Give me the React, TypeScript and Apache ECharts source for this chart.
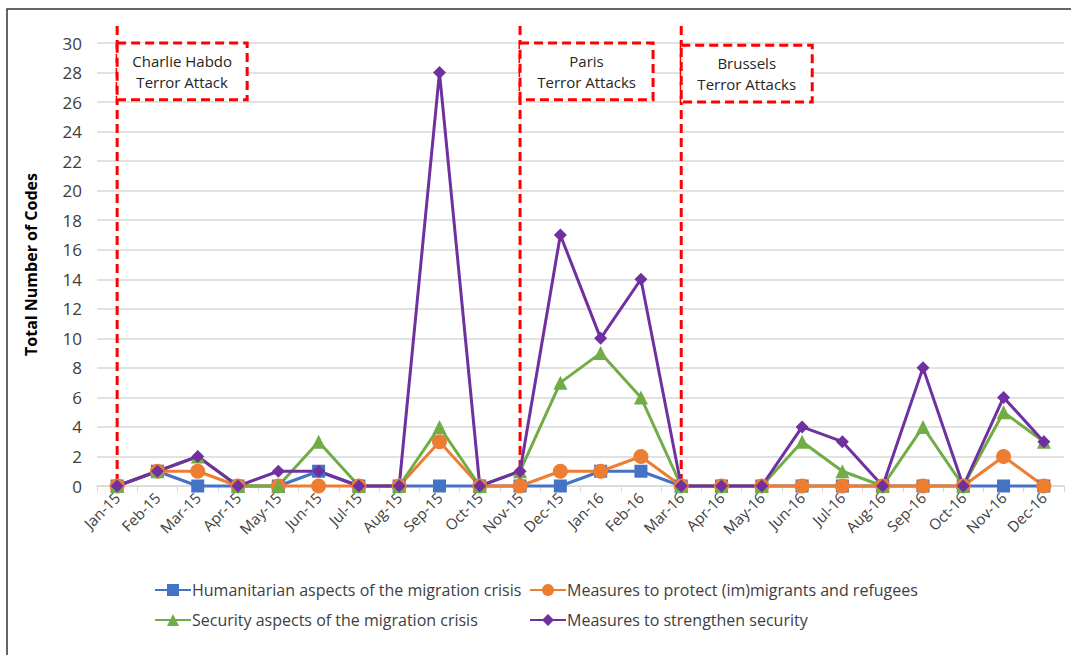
import React, { useEffect, useRef } from "react";
import * as echarts from "echarts";

const months = [
  "Jan-15", "Feb-15", "Mar-15", "Apr-15", "May-15", "Jun-15", "Jul-15", "Aug-15",
  "Sep-15", "Oct-15", "Nov-15", "Dec-15", "Jan-16", "Feb-16", "Mar-16", "Apr-16",
  "May-16", "Jun-16", "Jul-16", "Aug-16", "Sep-16", "Oct-16", "Nov-16", "Dec-16",
];

const humanitarian = [0, 1, 0, 0, 0, 1, 0, 0, 0, 0, 0, 0, 1, 1, 0, 0, 0, 0, 0, 0, 0, 0, 0, 0];
const protectMigrants = [0, 1, 1, 0, 0, 0, 0, 0, 3, 0, 0, 1, 1, 2, 0, 0, 0, 0, 0, 0, 0, 0, 2, 0];
const securityAspects = [0, 1, 2, 0, 0, 3, 0, 0, 4, 0, 1, 7, 9, 6, 0, 0, 0, 3, 1, 0, 4, 0, 5, 3];
const strengthenSecurity = [0, 1, 2, 0, 1, 1, 0, 0, 28, 0, 1, 17, 10, 14, 0, 0, 0, 4, 3, 0, 8, 0, 6, 3];

const seriesNames = [
  "Humanitarian aspects of the migration crisis",
  "Measures to protect (im)migrants and refugees",
  "Security aspects of the migration crisis",
  "Measures to strengthen security",
];

const events = [
  { month: "Jan-15", label: "Charlie Habdo\nTerror Attack" },
  { month: "Nov-15", label: "Paris\nTerror Attacks" },
  { month: "Mar-16", label: "Brussels\nTerror Attacks" },
];

const FONT = "'Open Sans', Lato, sans-serif";

export default function App() {
  const ref = useRef<HTMLDivElement>(null);

  useEffect(() => {
    if (!ref.current) return;
    const chart = echarts.init(ref.current, null, { renderer: "svg" });

    const mkSeries = (name: string, data: number[], color: string, symbol: string, size: number) => ({
      name,
      type: "line",
      data,
      symbol,
      symbolSize: size,
      showAllSymbol: true,
      lineStyle: { color, width: 3 },
      itemStyle: { color },
      clip: false,
    });

    const legendBase = {
      itemWidth: 36,
      itemHeight: 15,
      itemGap: 4,
      textStyle: { fontFamily: FONT, fontSize: 16, color: "#404040", padding: [0, 0, 0, -4] },
    };

    chart.setOption({
      animation: false,
      textStyle: { fontFamily: FONT },
      grid: { left: 97, right: 7, top: 43, bottom: 169, containLabel: false },
      xAxis: {
        type: "category",
        data: months,
        boundaryGap: true,
        axisLine: { lineStyle: { color: "#d9d9d9", width: 1.5 } },
        axisTick: { show: true, length: 6, lineStyle: { color: "#d9d9d9" } },
        axisLabel: { rotate: 45, fontSize: 15, color: "#404040", margin: 9, interval: 0, fontFamily: FONT },
      },
      yAxis: {
        type: "value",
        min: 0,
        max: 30,
        interval: 2,
        name: "Total Number of Codes",
        nameLocation: "middle",
        nameRotate: 90,
        nameGap: 58,
        nameTextStyle: { fontSize: 16, fontWeight: "bold", color: "#000", fontFamily: FONT },
        axisLine: { show: false },
        axisTick: { show: false },
        axisLabel: { fontSize: 17, color: "#404040", margin: 15, fontFamily: FONT },
        splitLine: { lineStyle: { color: "#d9d9d9", width: 1.5 } },
      },
      legend: [
        { ...legendBase, data: [seriesNames[0]], left: 149, top: 577 },
        { ...legendBase, data: [seriesNames[1]], left: 524, top: 577 },
        { ...legendBase, data: [seriesNames[2]], left: 149, top: 607 },
        { ...legendBase, data: [seriesNames[3]], left: 524, top: 607 },
      ],
      series: [
        mkSeries(seriesNames[0], humanitarian, "#4472C4", "rect", 13),
        mkSeries(seriesNames[1], protectMigrants, "#ED7D31", "circle", 15),
        mkSeries(seriesNames[2], securityAspects, "#70AD47", "triangle", 14),
        mkSeries(seriesNames[3], strengthenSecurity, "#7030A0", "diamond", 13),
      ],
    });

    const yPx = (v: number) => chart.convertToPixel({ yAxisIndex: 0 }, v) as number;
    const xPx = (m: string) => chart.convertToPixel({ xAxisIndex: 0 }, m) as number;

    const red = "#FF0000";
    const dash = [9, 5];
    const boxW = [130, 133, 131];
    const boxTop = [30, 30, 29.85];
    const graphics: any[] = [
      {
        type: "rect",
        shape: { x: 7, y: 9, width: 1200, height: 800 },
        style: { fill: "none", stroke: "#333", lineWidth: 1.5 },
        silent: true,
        z: 0,
      },
    ];
    events.forEach((e, i) => {
      const x = xPx(e.month);
      const yTop = yPx(boxTop[i]);
      const yBot = yPx(boxTop[i] - 3.85);
      graphics.push({
        type: "line",
        shape: { x1: x, y1: 26, x2: x, y2: yPx(0) },
        style: { stroke: red, lineWidth: 3, lineDash: dash },
        z: 1,
        silent: true,
      });
      graphics.push({
        type: "rect",
        shape: { x: x, y: yTop, width: boxW[i], height: yBot - yTop },
        style: { fill: "#fff", stroke: red, lineWidth: 3, lineDash: dash },
        z: 2,
        silent: true,
      });
      graphics.push({
        type: "text",
        x: x + boxW[i] / 2,
        y: (yTop + yBot) / 2,
        style: {
          text: e.label,
          fill: "#262626",
          font: `15px ${FONT}`,
          align: "center",
          verticalAlign: "middle",
          lineHeight: 21,
        },
        z: 3,
        silent: true,
      });
    });
    chart.setOption({ graphic: graphics });

    return () => chart.dispose();
  }, []);

  return <div ref={ref} style={{ width: 1071, height: 655, position: "absolute", left: 0, top: 0, background: "#fff" }} />;
}
